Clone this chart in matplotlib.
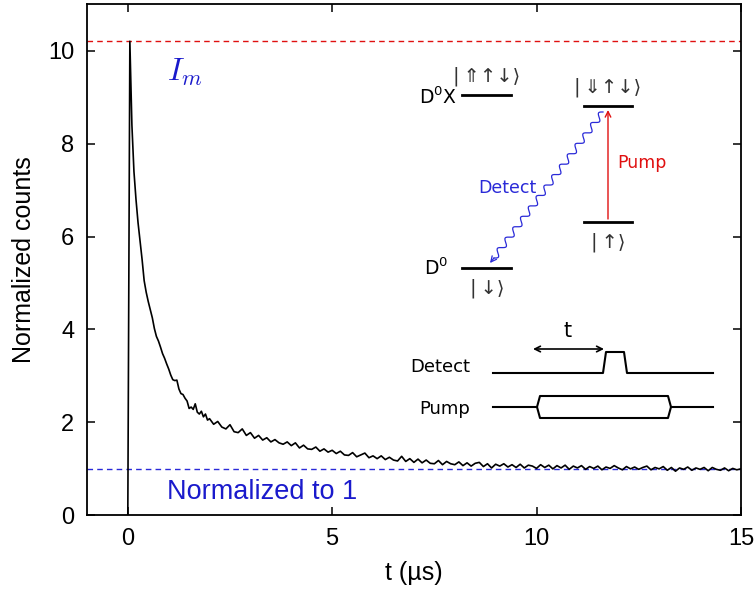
import numpy as np
import matplotlib
matplotlib.use('Agg')
import matplotlib.pyplot as plt

# ---- data ----
t_rise = [0.0, 0.05]
v_rise = [0.0, 10.2]
t_early = [0.1, 0.15, 0.2, 0.25, 0.3, 0.35, 0.4, 0.45, 0.5, 0.55, 0.6, 0.65, 0.7, 0.75,
           0.8, 0.85, 0.9, 0.95, 1.0, 1.05, 1.1, 1.15, 1.2, 1.25, 1.3, 1.35, 1.4, 1.45,
           1.5, 1.55, 1.6, 1.65, 1.7, 1.75, 1.8, 1.85, 1.9, 1.95, 2.0]
v_early = [8.4, 7.4, 6.8, 6.3, 5.9, 5.5, 5.05, 4.8, 4.6, 4.42, 4.25, 4.02, 3.85, 3.75,
           3.62, 3.48, 3.38, 3.26, 3.15, 3.02, 2.92, 2.90, 2.91, 2.72, 2.62, 2.60, 2.52, 2.46,
           2.30, 2.33, 2.28, 2.40, 2.22, 2.18, 2.24, 2.12, 2.18, 2.05, 2.08]
t_tail = [2.1, 2.2, 2.3, 2.4, 2.5, 2.6, 2.7, 2.8, 2.9, 3.0, 3.1, 3.2, 3.3, 3.4, 3.5, 3.6,
          3.7, 3.8, 3.9, 4.0, 4.1, 4.2, 4.3, 4.4, 4.5, 4.6, 4.7, 4.8, 4.9, 5.0, 5.1, 5.2,
          5.3, 5.4, 5.5, 5.6, 5.7, 5.8, 5.9, 6.0, 6.1, 6.2, 6.3, 6.4, 6.5, 6.6, 6.7, 6.8,
          6.9, 7.0, 7.1, 7.2, 7.3, 7.4, 7.5, 7.6, 7.7, 7.8, 7.9, 8.0, 8.1, 8.2, 8.3, 8.4,
          8.5, 8.6, 8.7, 8.8, 8.9, 9.0, 9.1, 9.2, 9.3, 9.4, 9.5, 9.6, 9.7, 9.8, 9.9, 10.0,
          10.1, 10.2, 10.3, 10.4, 10.5, 10.6, 10.7, 10.8, 10.9, 11.0, 11.1, 11.2, 11.3, 11.4,
          11.5, 11.6, 11.7, 11.8, 11.9, 12.0, 12.1, 12.2, 12.3, 12.4, 12.5, 12.6, 12.7, 12.8,
          12.9, 13.0, 13.1, 13.2, 13.3, 13.4, 13.5, 13.6, 13.7, 13.8, 13.9, 14.0, 14.1, 14.2,
          14.3, 14.4, 14.5, 14.6, 14.7, 14.8, 14.9, 15.0]
v_tail = [1.96, 2.02, 1.90, 1.86, 1.95, 1.80, 1.78, 1.86, 1.72, 1.78, 1.66, 1.72, 1.62, 1.67, 1.58, 1.63,
          1.56, 1.53, 1.58, 1.50, 1.56, 1.45, 1.51, 1.43, 1.42, 1.47, 1.38, 1.43, 1.36, 1.40, 1.33, 1.38,
          1.30, 1.29, 1.35, 1.26, 1.30, 1.34, 1.24, 1.28, 1.22, 1.28, 1.20, 1.25, 1.19, 1.17, 1.27, 1.16,
          1.22, 1.14, 1.21, 1.13, 1.19, 1.12, 1.11, 1.18, 1.09, 1.16, 1.11, 1.09, 1.15, 1.07, 1.13, 1.06,
          1.12, 1.14, 1.05, 1.11, 1.02, 1.10, 1.06, 1.11, 1.04, 1.09, 1.03, 1.10, 1.02, 1.08, 1.06, 1.01,
          1.09, 1.03, 1.08, 1.00, 1.07, 1.02, 1.08, 0.99, 1.06, 1.02, 1.07, 0.99, 1.05, 1.01,
          1.06, 0.98, 1.04, 1.01, 1.07, 1.02, 0.98, 1.05, 1.00, 1.04, 0.99, 1.03, 1.06, 0.98,
          1.03, 1.00, 1.05, 0.97, 1.03, 0.95, 1.02, 0.99, 1.04, 0.97, 1.02, 0.99, 1.03, 0.96,
          1.03, 0.99, 0.97, 1.02, 0.96, 1.01, 0.98, 1.00]
I_max = 10.2
norm_level = 1.0

t = np.array(t_rise + t_early + t_tail)
v = np.array(v_rise + v_early + v_tail)

plt.rcParams['font.family'] = ['Liberation Sans', 'DejaVu Sans']
plt.rcParams['mathtext.fontset'] = 'dejavusans'

fig = plt.figure(figsize=(7.56, 5.91), dpi=100)
ax = fig.add_axes([0.115, 0.128, 0.865, 0.865])

ax.plot(t, v, color='black', lw=1.2, zorder=3)
ax.axhline(I_max, color='#e01010', ls=(0, (4, 3)), lw=1.0)
ax.axhline(norm_level, color='#2a2ad8', ls=(0, (4, 3)), lw=1.0)

ax.set_xlim(-1, 15)
ax.set_ylim(0, 11)
ax.set_xticks([0, 5, 10, 15])
ax.set_yticks([0, 2, 4, 6, 8, 10])
ax.tick_params(direction='in', length=6, width=1.1, labelsize=17,
               top=True, right=True, pad=9)
for s in ax.spines.values():
    s.set_linewidth(1.3)
ax.set_xlabel('t (\u00b5s)', fontsize=18, labelpad=8)
ax.set_ylabel('Normalized counts', fontsize=18, labelpad=9)

ax.text(0.95, 9.53, '$I_m$', color='#1a1acc', fontsize=23, va='center',
        math_fontfamily='cm')
ax.text(0.95, 0.50, 'Normalized to 1', color='#1a1acc', fontsize=19.5, va='center')

# ---- inset drawings, in pixel coordinates of the figure ----
ov = fig.add_axes([0, 0, 1, 1])
ov.set_xlim(0, 756)
ov.set_ylim(591, 0)
ov.axis('off')
ov.patch.set_alpha(0)

dfont = dict(family=['DejaVu Sans', 'Noto Sans'])
lev = dict(color='black', lw=2.0)
# levels
ov.plot([462, 511], [95, 95], **lev)
ov.plot([584, 632], [106, 106], **lev)
ov.plot([584, 632], [222, 222], **lev)
ov.plot([462, 511], [268, 268], **lev)
ov.text(457, 97, r'D$^0$X', ha='right', va='center', fontsize=13.5, **dfont)
ov.text(448, 268, r'D$^0$', ha='right', va='center', fontsize=13.5, **dfont)
kc = '#333333'
ov.text(487, 76, '|\u2009\u21d1\u2191\u2193\u27e9', ha='center', va='center', fontsize=14, color=kc, **dfont)
ov.text(608, 87, '|\u2009\u21d3\u2191\u2193\u27e9', ha='center', va='center', fontsize=14, color=kc, **dfont)
ov.text(608, 242, '|\u2009\u2191\u27e9', ha='center', va='center', fontsize=14, color=kc, **dfont)
ov.text(487, 288, '|\u2009\u2193\u27e9', ha='center', va='center', fontsize=14, color=kc, **dfont)

# pump arrow
ov.annotate('', xy=(608, 110), xytext=(608, 219),
            arrowprops=dict(arrowstyle='->', color='#e01010', lw=1.0, shrinkA=0, shrinkB=0))
ov.text(617, 163, 'Pump', color='#e01010', fontsize=12.5, va='center', **dfont)

# wavy detect arrow
p0 = np.array([603.0, 112.0])
p1 = np.array([494.0, 258.0])
d = p1 - p0
L = np.hypot(*d)
u = d / L
nrm = np.array([-u[1], u[0]])
s = np.linspace(0, 1, 400)
w = 3.0 * np.sin(2 * np.pi * 14 * s)
wx = p0[0] + d[0] * s + nrm[0] * w
wy = p0[1] + d[1] * s + nrm[1] * w
ov.plot(wx, wy, color='#2a2ad8', lw=0.9)
ov.annotate('', xy=(490, 263), xytext=(wx[-1], wy[-1]),
            arrowprops=dict(arrowstyle='->', color='#2a2ad8', lw=0.9, shrinkA=0, shrinkB=0))
ov.text(537, 188, 'Detect', color='#2a2ad8', fontsize=12.5, ha='right', va='center', **dfont)

# timing diagram
tl = dict(color='black', lw=1.5)
ov.plot([493, 603, 606, 624, 627, 713], [373, 373, 352, 352, 373, 373], **tl)
ov.plot([493, 537, 540, 668, 671, 713], [407, 407, 396, 396, 407, 407], **tl)
ov.plot([537, 540, 668, 671], [407, 418, 418, 407], **tl)
ov.text(470, 367, 'Detect', ha='right', va='center', fontsize=13, **dfont)
ov.text(470, 409, 'Pump', ha='right', va='center', fontsize=13, **dfont)
ov.annotate('', xy=(604, 349), xytext=(533, 349),
            arrowprops=dict(arrowstyle='<->', color='black', lw=1.2, shrinkA=0, shrinkB=0))
ov.text(568, 331, 't', ha='center', va='center', fontsize=15, **dfont)

fig.savefig('out.png', dpi=100)
